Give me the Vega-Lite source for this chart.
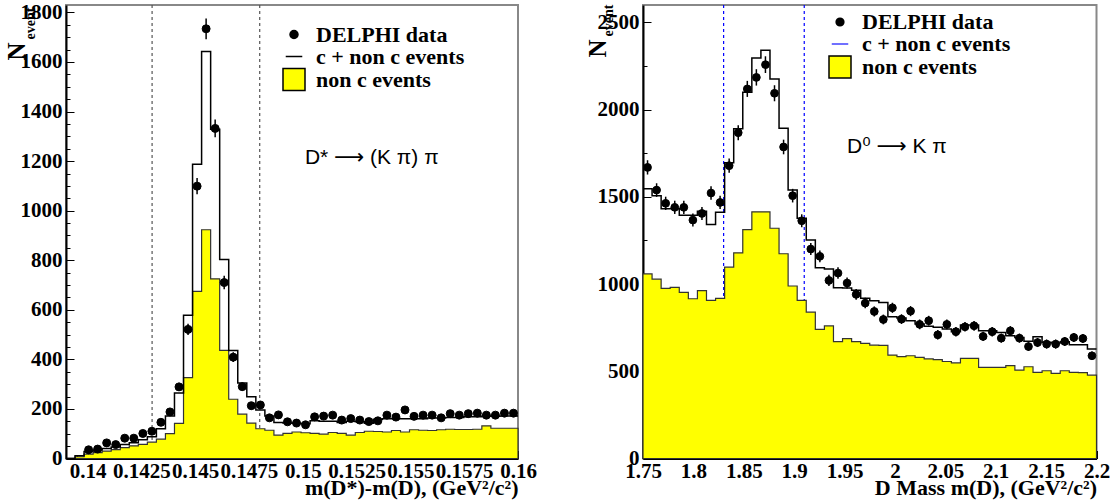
{
  "$schema": "https://vega.github.io/schema/vega-lite/v6.json",
  "background": "white",
  "padding": {"left": 3, "top": 0, "right": 0, "bottom": 0},
  "bounds": "flush",
  "spacing": 125,
  "resolve": {
    "scale": {"shape": "independent", "fill": "independent", "stroke": "independent", "size": "independent"},
    "legend": {"shape": "independent", "fill": "independent", "stroke": "independent", "size": "independent"}
  },
  "config": {
    "font": "Liberation Serif",
    "style": {"guide-label": {"font": "Liberation Serif", "fontWeight": "bold"}, "guide-title": {"font": "Liberation Serif", "fontWeight": "bold"}},
    "view": {"stroke": "#888888", "strokeWidth": 2},
    "axis": {"labelFont": "Liberation Serif", "labelFontWeight": "bold", "labelFontSize": 21, "labelColor": "black", "titleFont": "Liberation Serif", "titleFontWeight": "bold", "titleColor": "black", "tickColor": "black", "domainColor": "black", "grid": false, "tickWidth": 1},
    "legend": {"labelFont": "Liberation Serif", "labelFontWeight": "bold", "labelFontSize": 22, "labelColor": "black", "rowPadding": -5, "symbolStrokeWidth": 1.5, "labelOffset": 10, "padding": 0}
  },
  "datasets": {
    "L": [
      {"lo":0.139,"c":0.13921,"tot":0,"non":0},
      {"lo":0.13942,"c":0.13963,"tot":11,"non":7},
      {"lo":0.13984,"c":0.14005,"tot":28,"non":18,"n":35,"e":6},
      {"lo":0.14026,"c":0.14047,"tot":34,"non":24,"n":38,"e":6},
      {"lo":0.14068,"c":0.14089,"tot":40,"non":30,"n":63,"e":8},
      {"lo":0.1411,"c":0.14131,"tot":46,"non":36,"n":56,"e":7},
      {"lo":0.14152,"c":0.14173,"tot":56,"non":44,"n":82,"e":9},
      {"lo":0.14194,"c":0.14215,"tot":64,"non":51,"n":82,"e":9},
      {"lo":0.14236,"c":0.14257,"tot":76,"non":57,"n":101,"e":10},
      {"lo":0.14278,"c":0.14299,"tot":88,"non":66,"n":110,"e":10},
      {"lo":0.1432,"c":0.14341,"tot":120,"non":78,"n":146,"e":12},
      {"lo":0.14362,"c":0.14383,"tot":172,"non":100,"n":188,"e":14},
      {"lo":0.14404,"c":0.14425,"tot":264,"non":142,"n":289,"e":17},
      {"lo":0.14446,"c":0.14467,"tot":578,"non":326,"n":521,"e":23},
      {"lo":0.14488,"c":0.14509,"tot":1187,"non":674,"n":1099,"e":33},
      {"lo":0.1453,"c":0.14551,"tot":1642,"non":923,"n":1734,"e":42},
      {"lo":0.14572,"c":0.14593,"tot":1329,"non":725,"n":1332,"e":36},
      {"lo":0.14614,"c":0.14635,"tot":803,"non":436,"n":710,"e":27},
      {"lo":0.14656,"c":0.14677,"tot":436,"non":239,"n":409,"e":20},
      {"lo":0.14698,"c":0.14719,"tot":305,"non":179,"n":290,"e":17},
      {"lo":0.1474,"c":0.14761,"tot":249,"non":143,"n":213,"e":15},
      {"lo":0.14782,"c":0.14803,"tot":196,"non":120,"n":216,"e":15},
      {"lo":0.14824,"c":0.14845,"tot":172,"non":114,"n":164,"e":13},
      {"lo":0.14866,"c":0.14887,"tot":145,"non":94,"n":176,"e":13},
      {"lo":0.14908,"c":0.14929,"tot":143,"non":101,"n":148,"e":12},
      {"lo":0.1495,"c":0.14971,"tot":142,"non":107,"n":143,"e":12},
      {"lo":0.14992,"c":0.15013,"tot":140,"non":104,"n":136,"e":12},
      {"lo":0.15034,"c":0.15055,"tot":152,"non":101,"n":168,"e":13},
      {"lo":0.15076,"c":0.15097,"tot":150,"non":98,"n":171,"e":13},
      {"lo":0.15118,"c":0.15139,"tot":150,"non":105,"n":175,"e":13},
      {"lo":0.1516,"c":0.15181,"tot":145,"non":101,"n":155,"e":12},
      {"lo":0.15202,"c":0.15223,"tot":150,"non":94,"n":161,"e":13},
      {"lo":0.15244,"c":0.15265,"tot":148,"non":105,"n":155,"e":12},
      {"lo":0.15286,"c":0.15307,"tot":142,"non":110,"n":149,"e":12},
      {"lo":0.15328,"c":0.15349,"tot":158,"non":109,"n":152,"e":12},
      {"lo":0.1537,"c":0.15391,"tot":160,"non":107,"n":175,"e":13},
      {"lo":0.15412,"c":0.15433,"tot":160,"non":113,"n":167,"e":13},
      {"lo":0.15454,"c":0.15475,"tot":160,"non":107,"n":196,"e":14},
      {"lo":0.15496,"c":0.15517,"tot":160,"non":116,"n":170,"e":13},
      {"lo":0.15538,"c":0.15559,"tot":160,"non":114,"n":175,"e":13},
      {"lo":0.1558,"c":0.15601,"tot":163,"non":113,"n":175,"e":13},
      {"lo":0.15622,"c":0.15643,"tot":163,"non":116,"n":164,"e":13},
      {"lo":0.15664,"c":0.15685,"tot":165,"non":118,"n":181,"e":13},
      {"lo":0.15706,"c":0.15727,"tot":165,"non":117,"n":175,"e":13},
      {"lo":0.15748,"c":0.15769,"tot":168,"non":117,"n":181,"e":13},
      {"lo":0.1579,"c":0.15811,"tot":168,"non":118,"n":183,"e":14},
      {"lo":0.15832,"c":0.15853,"tot":172,"non":132,"n":175,"e":13},
      {"lo":0.15874,"c":0.15895,"tot":170,"non":122,"n":175,"e":13},
      {"lo":0.15916,"c":0.15937,"tot":172,"non":122,"n":183,"e":14},
      {"lo":0.15958,"c":0.15979,"tot":172,"non":122,"n":183,"e":14},
      {"lo":0.16,"tot":172,"non":122}
    ],
    "R": [
      {"lo":1.75,"c":1.7545,"tot":1547,"non":1058,"n":1669,"e":41},
      {"lo":1.759,"c":1.7635,"tot":1506,"non":1028,"n":1539,"e":39},
      {"lo":1.768,"c":1.7725,"tot":1432,"non":975,"n":1463,"e":38},
      {"lo":1.777,"c":1.7815,"tot":1432,"non":981,"n":1440,"e":38},
      {"lo":1.786,"c":1.7905,"tot":1394,"non":952,"n":1440,"e":38},
      {"lo":1.795,"c":1.7995,"tot":1394,"non":916,"n":1367,"e":37},
      {"lo":1.804,"c":1.8085,"tot":1417,"non":962,"n":1405,"e":37},
      {"lo":1.813,"c":1.8175,"tot":1342,"non":906,"n":1522,"e":39},
      {"lo":1.822,"c":1.8265,"tot":1412,"non":918,"n":1468,"e":38},
      {"lo":1.831,"c":1.8355,"tot":1695,"non":1097,"n":1679,"e":41},
      {"lo":1.84,"c":1.8445,"tot":1890,"non":1179,"n":1868,"e":43},
      {"lo":1.849,"c":1.8535,"tot":2100,"non":1312,"n":2119,"e":46},
      {"lo":1.858,"c":1.8625,"tot":2296,"non":1414,"n":2185,"e":47},
      {"lo":1.867,"c":1.8715,"tot":2340,"non":1414,"n":2258,"e":48},
      {"lo":1.876,"c":1.8805,"tot":2176,"non":1320,"n":2094,"e":46},
      {"lo":1.885,"c":1.8895,"tot":1893,"non":1174,"n":1786,"e":42},
      {"lo":1.894,"c":1.8985,"tot":1539,"non":989,"n":1507,"e":39},
      {"lo":1.903,"c":1.9075,"tot":1377,"non":907,"n":1363,"e":37},
      {"lo":1.912,"c":1.9165,"tot":1252,"non":839,"n":1201,"e":35},
      {"lo":1.921,"c":1.9255,"tot":1094,"non":740,"n":1159,"e":34},
      {"lo":1.93,"c":1.9345,"tot":1087,"non":760,"n":1021,"e":32},
      {"lo":1.939,"c":1.9435,"tot":979,"non":670,"n":1063,"e":33},
      {"lo":1.948,"c":1.9525,"tot":978,"non":687,"n":1006,"e":32},
      {"lo":1.957,"c":1.9615,"tot":964,"non":670,"n":941,"e":31},
      {"lo":1.966,"c":1.9705,"tot":919,"non":660,"n":891,"e":30},
      {"lo":1.975,"c":1.9795,"tot":905,"non":650,"n":843,"e":29},
      {"lo":1.984,"c":1.9885,"tot":895,"non":648,"n":797,"e":28},
      {"lo":1.993,"c":1.9975,"tot":813,"non":593,"n":864,"e":29},
      {"lo":2.002,"c":2.0065,"tot":805,"non":584,"n":799,"e":28},
      {"lo":2.011,"c":2.0155,"tot":790,"non":589,"n":845,"e":29},
      {"lo":2.02,"c":2.0245,"tot":771,"non":580,"n":769,"e":28},
      {"lo":2.029,"c":2.0335,"tot":758,"non":571,"n":790,"e":28},
      {"lo":2.038,"c":2.0425,"tot":752,"non":567,"n":709,"e":27},
      {"lo":2.047,"c":2.0515,"tot":742,"non":556,"n":769,"e":28},
      {"lo":2.056,"c":2.0605,"tot":727,"non":548,"n":727,"e":27},
      {"lo":2.065,"c":2.0695,"tot":766,"non":574,"n":755,"e":27},
      {"lo":2.074,"c":2.0785,"tot":766,"non":574,"n":761,"e":28},
      {"lo":2.083,"c":2.0875,"tot":733,"non":522,"n":700,"e":26},
      {"lo":2.092,"c":2.0965,"tot":733,"non":522,"n":727,"e":27},
      {"lo":2.101,"c":2.1055,"tot":723,"non":522,"n":690,"e":26},
      {"lo":2.11,"c":2.1145,"tot":704,"non":532,"n":732,"e":27},
      {"lo":2.119,"c":2.1235,"tot":694,"non":507,"n":690,"e":26},
      {"lo":2.128,"c":2.1325,"tot":672,"non":526,"n":642,"e":25},
      {"lo":2.137,"c":2.1415,"tot":698,"non":494,"n":665,"e":26},
      {"lo":2.146,"c":2.1505,"tot":666,"non":503,"n":656,"e":26},
      {"lo":2.155,"c":2.1595,"tot":662,"non":488,"n":656,"e":26},
      {"lo":2.164,"c":2.1685,"tot":670,"non":503,"n":671,"e":26},
      {"lo":2.173,"c":2.1775,"tot":652,"non":494,"n":694,"e":26},
      {"lo":2.182,"c":2.1865,"tot":652,"non":492,"n":688,"e":26},
      {"lo":2.191,"c":2.1955,"tot":628,"non":478,"n":589,"e":24},
      {"lo":2.2,"tot":628,"non":478}
    ]
  },
  "hconcat": [
    {
      "width": 452,
      "height": 453.5,
      "resolve": {"axis": {"x": "independent", "y": "independent"}},
      "layer": [
        {
          "data": {"values": [{"v": 0.143}, {"v": 0.148}]},
          "mark": {"type": "rule", "color": "#555555", "strokeDash": [3, 3], "strokeWidth": 1.2},
          "encoding": {"x": {"field": "v", "type": "quantitative", "scale": {"domain": [0.139, 0.16], "nice": false, "zero": false}, "axis": null}}
        },
        {
          "data": {"name": "L"},
          "mark": {"type": "area", "interpolate": "step-after", "fill": "#ffff00", "stroke": "#333333", "strokeWidth": 1.2},
          "encoding": {
            "x": {"field": "lo", "type": "quantitative", "scale": {"domain": [0.139, 0.16], "nice": false, "zero": false},
              "axis": {"orient": "bottom", "values": [0.14, 0.1425, 0.145, 0.1475, 0.15, 0.1525, 0.155, 0.1575, 0.16], "format": ".4~f", "labelFont": "Liberation Serif", "labelFontWeight": "bold", "labelFontSize": 21, "labelFlush": false, "labelOverlap": false, "labelBound": false, "tickSize": -8, "labelPadding": 10, "domainWidth": 2, "title": "m(D*)-m(D), (GeV²/c²)", "titleFontSize": 22, "titleAlign": "right", "titleAnchor": "end", "titleBaseline": "alphabetic", "titleX": 452, "titleY": 36}},
            "y": {"field": "non", "type": "quantitative", "scale": {"domain": [0, 1830], "nice": false, "zero": false},
              "axis": {"orient": "left", "values": [0, 200, 400, 600, 800, 1000, 1200, 1400, 1600, 1800], "format": "d", "labelFont": "Liberation Serif", "labelFontWeight": "bold", "labelFontSize": 21, "tickSize": -8, "labelPadding": 12, "domainWidth": 2, "labelOverlap": false, "labelBound": false, "title": "N", "titleFontSize": 25, "titleAngle": 270, "titleAlign": "left", "titleBaseline": "alphabetic", "titleX": -42, "titleY": 55}}
          }
        },
        {
          "data": {"name": "L"},
          "mark": {"type": "line", "interpolate": "step-after", "color": "black", "strokeWidth": 1.5},
          "encoding": {
            "x": {"field": "lo", "type": "quantitative", "scale": {"domain": [0.139, 0.16], "nice": false, "zero": false},
              "axis": {"orient": "bottom", "values": [0.1395,0.14,0.1405,0.141,0.1415,0.142,0.1425,0.143,0.1435,0.144,0.1445,0.145,0.1455,0.146,0.1465,0.147,0.1475,0.148,0.1485,0.149,0.1495,0.15,0.1505,0.151,0.1515,0.152,0.1525,0.153,0.1535,0.154,0.1545,0.155,0.1555,0.156,0.1565,0.157,0.1575,0.158,0.1585,0.159,0.1595], "labels": false, "domain": false, "tickSize": -4, "title": null}},
            "y": {"field": "tot", "type": "quantitative", "scale": {"domain": [0, 1830], "nice": false, "zero": false},
              "axis": {"orient": "left", "values": [50,100,150,250,300,350,450,500,550,650,700,750,850,900,950,1050,1100,1150,1250,1300,1350,1450,1500,1550,1650,1700,1750], "labels": false, "domain": false, "tickSize": -4, "title": "event", "titleFontSize": 14, "titleAngle": 270, "titleAlign": "left", "titleBaseline": "alphabetic", "titleX": -32, "titleY": 34}}
          }
        },
        {
          "data": {"name": "L"},
          "transform": [{"filter": "datum.n > 0"}],
          "mark": {"type": "errorbar", "color": "black", "thickness": 1.5},
          "encoding": {
            "x": {"field": "c", "type": "quantitative", "scale": {"domain": [0.139, 0.16], "nice": false, "zero": false}, "axis": null},
            "y": {"field": "n", "type": "quantitative", "scale": {"domain": [0, 1830], "nice": false, "zero": false}, "axis": null},
            "yError": {"field": "e"}
          }
        },
        {
          "data": {"name": "L"},
          "transform": [{"filter": "datum.n > 0"}],
          "mark": {"type": "point", "filled": true, "opacity": 1, "strokeWidth": 1},
          "encoding": {
            "x": {"field": "c", "type": "quantitative", "scale": {"domain": [0.139, 0.16], "nice": false, "zero": false}, "axis": null},
            "y": {"field": "n", "type": "quantitative", "scale": {"domain": [0, 1830], "nice": false, "zero": false}, "axis": null},
            "shape": {"datum": "DELPHI data", "type": "nominal",
              "scale": {"domain": ["DELPHI data", "c + non c events", "non c events"], "range": ["circle", "stroke", "square"]},
              "legend": {"title": null, "orient": "none", "legendX": 216, "legendY": 18.5, "labelFont": "Liberation Serif", "labelFontWeight": "bold", "labelFontSize": 22}},
            "fill": {"datum": "DELPHI data", "type": "nominal",
              "scale": {"domain": ["DELPHI data", "c + non c events", "non c events"], "range": ["black", "transparent", "#ffff00"]},
              "legend": {"title": null, "orient": "none", "legendX": 216, "legendY": 18.5, "labelFont": "Liberation Serif", "labelFontWeight": "bold", "labelFontSize": 22}},
            "stroke": {"datum": "DELPHI data", "type": "nominal",
              "scale": {"domain": ["DELPHI data", "c + non c events", "non c events"], "range": ["black", "black", "black"]},
              "legend": {"title": null, "orient": "none", "legendX": 216, "legendY": 18.5, "labelFont": "Liberation Serif", "labelFontWeight": "bold", "labelFontSize": 22}},
            "size": {"datum": "DELPHI data", "type": "nominal",
              "scale": {"domain": ["DELPHI data", "c + non c events", "non c events"], "range": [64, 484]},
              "legend": {"title": null, "orient": "none", "legendX": 216, "legendY": 18.5, "labelFont": "Liberation Serif", "labelFontWeight": "bold", "labelFontSize": 22}}
          }
        },
        {
          "data": {"values": [{"x": 0.1501, "y": 1211, "t": "D*  ⟶  (K π) π"}]},
          "mark": {"type": "text", "font": "Liberation Sans, DejaVu Sans", "fontSize": 21, "align": "left", "baseline": "middle", "color": "black"},
          "encoding": {
            "x": {"field": "x", "type": "quantitative", "scale": {"domain": [0.139, 0.16], "nice": false, "zero": false}, "axis": null},
            "y": {"field": "y", "type": "quantitative", "scale": {"domain": [0, 1830], "nice": false, "zero": false}, "axis": null},
            "text": {"field": "t"}
          }
        }
      ]
    },
    {
      "width": 453.5,
      "height": 453.5,
      "resolve": {"axis": {"x": "independent", "y": "independent"}},
      "layer": [
        {
          "data": {"values": [{"v": 1.83}, {"v": 1.91}]},
          "mark": {"type": "rule", "color": "#0000ff", "strokeDash": [3, 3], "strokeWidth": 1.2},
          "encoding": {"x": {"field": "v", "type": "quantitative", "scale": {"domain": [1.75, 2.2], "nice": false, "zero": false}, "axis": null}}
        },
        {
          "data": {"name": "R"},
          "mark": {"type": "area", "interpolate": "step-after", "fill": "#ffff00", "stroke": "#333333", "strokeWidth": 1.2},
          "encoding": {
            "x": {"field": "lo", "type": "quantitative", "scale": {"domain": [1.75, 2.2], "nice": false, "zero": false},
              "axis": {"orient": "bottom", "values": [1.75, 1.8, 1.85, 1.9, 1.95, 2, 2.05, 2.1, 2.15, 2.2], "format": ".2~f", "labelFont": "Liberation Serif", "labelFontWeight": "bold", "labelFontSize": 21, "labelFlush": false, "labelOverlap": false, "labelBound": false, "tickSize": -8, "labelPadding": 10, "domainWidth": 2, "title": "D Mass m(D), (GeV²/c²)", "titleFontSize": 22, "titleAlign": "right", "titleAnchor": "end", "titleBaseline": "alphabetic", "titleX": 453.5, "titleY": 36}},
            "y": {"field": "non", "type": "quantitative", "scale": {"domain": [0, 2600], "nice": false, "zero": false},
              "axis": {"orient": "left", "values": [0, 500, 1000, 1500, 2000, 2500], "format": "d", "labelFont": "Liberation Serif", "labelFontWeight": "bold", "labelFontSize": 21, "tickSize": -8, "labelPadding": 12, "domainWidth": 2, "labelOverlap": false, "labelBound": false, "title": "N", "titleFontSize": 25, "titleAngle": 270, "titleAlign": "left", "titleBaseline": "alphabetic", "titleX": -38, "titleY": 52}}
          }
        },
        {
          "data": {"name": "R"},
          "mark": {"type": "line", "interpolate": "step-after", "color": "black", "strokeWidth": 1.5},
          "encoding": {
            "x": {"field": "lo", "type": "quantitative", "scale": {"domain": [1.75, 2.2], "nice": false, "zero": false},
              "axis": {"orient": "bottom", "values": [1.76,1.77,1.78,1.79,1.81,1.82,1.83,1.84,1.86,1.87,1.88,1.89,1.91,1.92,1.93,1.94,1.96,1.97,1.98,1.99,2.01,2.02,2.03,2.04,2.06,2.07,2.08,2.09,2.11,2.12,2.13,2.14,2.16,2.17,2.18,2.19], "labels": false, "domain": false, "tickSize": -4, "title": null}},
            "y": {"field": "tot", "type": "quantitative", "scale": {"domain": [0, 2600], "nice": false, "zero": false},
              "axis": {"orient": "left", "values": [250, 750, 1250, 1750, 2250], "labels": false, "domain": false, "tickSize": -4, "title": "event", "titleFontSize": 14, "titleAngle": 270, "titleAlign": "left", "titleBaseline": "alphabetic", "titleX": -31, "titleY": 31}}
          }
        },
        {
          "data": {"name": "R"},
          "transform": [{"filter": "datum.n > 0"}],
          "mark": {"type": "errorbar", "color": "black", "thickness": 1.5},
          "encoding": {
            "x": {"field": "c", "type": "quantitative", "scale": {"domain": [1.75, 2.2], "nice": false, "zero": false}, "axis": null},
            "y": {"field": "n", "type": "quantitative", "scale": {"domain": [0, 2600], "nice": false, "zero": false}, "axis": null},
            "yError": {"field": "e"}
          }
        },
        {
          "data": {"name": "R"},
          "transform": [{"filter": "datum.n > 0"}],
          "mark": {"type": "point", "filled": true, "opacity": 1, "strokeWidth": 1},
          "encoding": {
            "x": {"field": "c", "type": "quantitative", "scale": {"domain": [1.75, 2.2], "nice": false, "zero": false}, "axis": null},
            "y": {"field": "n", "type": "quantitative", "scale": {"domain": [0, 2600], "nice": false, "zero": false}, "axis": null},
            "shape": {"datum": "DELPHI data", "type": "nominal",
              "scale": {"domain": ["DELPHI data", "c + non c events", "non c events"], "range": ["circle", "stroke", "square"]},
              "legend": {"title": null, "orient": "none", "legendX": 185, "legendY": 6, "labelFont": "Liberation Serif", "labelFontWeight": "bold", "labelFontSize": 22}},
            "fill": {"datum": "DELPHI data", "type": "nominal",
              "scale": {"domain": ["DELPHI data", "c + non c events", "non c events"], "range": ["black", "transparent", "#ffff00"]},
              "legend": {"title": null, "orient": "none", "legendX": 185, "legendY": 6, "labelFont": "Liberation Serif", "labelFontWeight": "bold", "labelFontSize": 22}},
            "stroke": {"datum": "DELPHI data", "type": "nominal",
              "scale": {"domain": ["DELPHI data", "c + non c events", "non c events"], "range": ["black", "#4040ff", "black"]},
              "legend": {"title": null, "orient": "none", "legendX": 185, "legendY": 6, "labelFont": "Liberation Serif", "labelFontWeight": "bold", "labelFontSize": 22}},
            "size": {"datum": "DELPHI data", "type": "nominal",
              "scale": {"domain": ["DELPHI data", "c + non c events", "non c events"], "range": [60, 484]},
              "legend": {"title": null, "orient": "none", "legendX": 185, "legendY": 6, "labelFont": "Liberation Serif", "labelFontWeight": "bold", "labelFontSize": 22}}
          }
        },
        {
          "data": {"values": [{"x": 1.9525, "y": 1785, "t": "D⁰  ⟶  K π"}]},
          "mark": {"type": "text", "font": "Liberation Sans, DejaVu Sans", "fontSize": 21, "align": "left", "baseline": "middle", "color": "black"},
          "encoding": {
            "x": {"field": "x", "type": "quantitative", "scale": {"domain": [1.75, 2.2], "nice": false, "zero": false}, "axis": null},
            "y": {"field": "y", "type": "quantitative", "scale": {"domain": [0, 2600], "nice": false, "zero": false}, "axis": null},
            "text": {"field": "t"}
          }
        }
      ]
    }
  ]
}
